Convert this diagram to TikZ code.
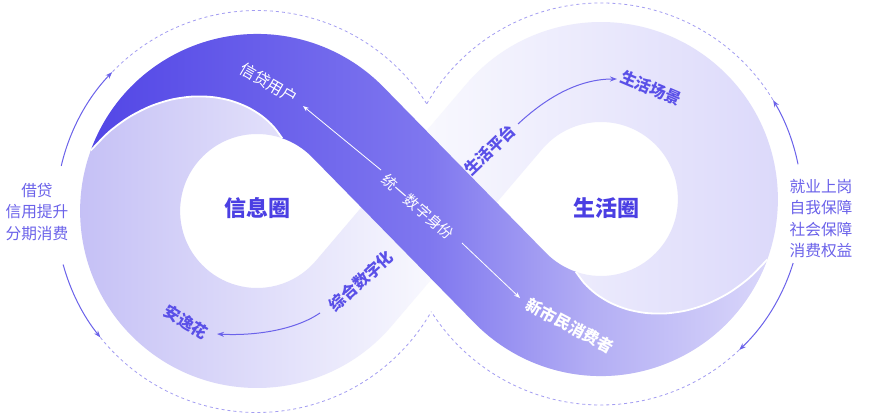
\documentclass[tikz,border=0pt]{standalone}
\usepackage{fontspec}
\setmainfont{Noto Sans CJK SC}
\usetikzlibrary{calc,arrows.meta}
\definecolor{dA}{HTML}{5246E6}
\definecolor{dB}{HTML}{7F77EF}
\definecolor{dC}{HTML}{B3AEF4}
\definecolor{dD}{HTML}{D9D6FA}
\definecolor{lA}{HTML}{C2BDF5}
\definecolor{lB}{HTML}{F8F8FE}
\definecolor{lC}{HTML}{DAD7FA}
\definecolor{ink}{HTML}{5A50E8}
\definecolor{inkdark}{HTML}{4B3FE3}
\definecolor{side}{HTML}{6B62EA}
\definecolor{dashc}{HTML}{A39DF2}
\pgfdeclarehorizontalshading{darkrib}{100bp}{color(0bp)=(dA); color(25bp)=(dA); color(50bp)=(dB); color(62bp)=(dC); color(75bp)=(dD); color(100bp)=(dD)}
\pgfdeclarehorizontalshading{lightrib}{100bp}{color(0bp)=(lA); color(25bp)=(lA); color(50bp)=(lB); color(75bp)=(lC); color(100bp)=(lC)}
\begin{document}
\begin{tikzpicture}[x=1pt,y=1pt,
  bandtext/.style={font=\bfseries\fontsize{16}{16}\selectfont, text=ink, inner sep=0pt},
  whitetext/.style={font=\fontsize{16}{16}\selectfont, text=white, inner sep=0pt},
  sidetext/.style={font=\fontsize{15.7}{21.5}\selectfont, text=side, align=center, inner sep=0pt},
  circtext/.style={font=\bfseries\fontsize{22}{22}\selectfont, text=inkdark, inner sep=0pt},
  dashline/.style={draw=dashc, line width=0.8pt, dash pattern=on 3pt off 3pt},
  sidearrow/.style={draw=side, line width=1pt, -{Stealth[length=7pt,width=5pt]}},
  whitearrow/.style={draw=white, line width=0.8pt, -{Stealth[length=6pt,width=4.5pt]}},
  separator/.style={draw=white, line width=1.8pt},
]
\useasboundingbox (0,0) rectangle (877,418);
\fill[white] (0,0) rectangle (877,418);
\begin{scope}[shift={(429,213)}, rotate=2]
 \coordinate (C1) at (-172,0);
 \coordinate (C2) at (172,0);
 % light ribbon (back side)
 \path[shading=lightrib, even odd rule]
   ($(C1)+(42.4:177)$) -- (0,74.2) -- ($(C2)+(137.6:177)$)
   arc[start angle=137.6, end angle=-137.6, radius=177]
   -- (0,-74.2) -- ($(C1)+(-42.4:177)$)
   arc[start angle=-42.4, end angle=-317.6, radius=177] -- cycle
   ($(C1)+(42.4:77)$) arc[start angle=42.4, end angle=317.6, radius=77] -- (-67.7,0) -- cycle
   ($(C2)+(137.6:77)$) arc[start angle=137.6, end angle=-137.6, radius=77] -- (67.7,0) -- cycle;
 % dark ribbon (front side)
 \path[shading=darkrib]
   ($(C1)+(158:177)$) arc[start angle=158, end angle=42.4, radius=177]
   -- ($(C2)+(222.4:77)$) arc[start angle=222.4, end angle=249, radius=77]
   -- plot[smooth, variable=\t, domain=0:1, samples=12] ({172+(77+100*\t)*cos(249+89*\t)}, {(77+100*\t)*sin(249+89*\t)})
   arc[start angle=338, end angle=222.4, radius=177]
   -- ($(C1)+(42.4:77)$) arc[start angle=42.4, end angle=69, radius=77]
   -- plot[smooth, variable=\t, domain=0:1, samples=12] ({-172+(77+100*\t)*cos(69+89*\t)}, {(77+100*\t)*sin(69+89*\t)})
   -- cycle;
 \draw[separator] plot[smooth, variable=\t, domain=0:1, samples=12] ({172+(77+100*\t)*cos(249+89*\t)}, {(77+100*\t)*sin(249+89*\t)});
 \draw[separator] plot[smooth, variable=\t, domain=0:1, samples=12] ({-172+(77+100*\t)*cos(69+89*\t)}, {(77+100*\t)*sin(69+89*\t)});
\end{scope}
% dashed outline and side arrows
\coordinate (DL) at (257,206.5);
\coordinate (DR) at (601,214);
\draw[dashline] ($(DL)+(32.45:201)$) arc[start angle=32.45, end angle=136.1, radius=201];
\draw[dashline] ($(DL)+(218.8:201)$) arc[start angle=218.8, end angle=330.05, radius=201];
\draw[dashline] ($(DR)+(150.05:201)$) arc[start angle=150.05, end angle=31.1, radius=201];
\draw[dashline] ($(DR)+(-46.6:201)$) arc[start angle=-46.6, end angle=-147.55, radius=201];
\draw[sidearrow] ($(DL)+(166.9:201)$) arc[start angle=166.9, end angle=136.1, radius=201];
\draw[sidearrow] ($(DL)+(195.3:201)$) arc[start angle=195.3, end angle=218.8, radius=201];
\draw[sidearrow] ($(DR)+(11.4:201)$) arc[start angle=11.4, end angle=31.1, radius=201];
\draw[sidearrow] ($(DR)+(-17.1:201)$) arc[start angle=-17.1, end angle=-46.6, radius=201];
% side texts
\node[sidetext] (leftlab) at (37,206) {借贷\\信用提升\\分期消费};
\node[sidetext] (rightlab) at (821,199.5) {就业上岗\\自我保障\\社会保障\\消费权益};
% circle titles
\node[circtext] (info) at (257,210) {信息圈};
\node[circtext] (life) at (606,210) {生活圈};
% band labels
\node[whitetext, rotate=-30] (xdyh) at (269,335) {信贷用户};
\node[whitetext, font=\fontsize{15}{15}\selectfont, rotate=-41] (tysf) at (418,211) {统一数字身份};
\node[whitetext, font=\bfseries\fontsize{16}{16}\selectfont, rotate=-28] (xsm) at (570,92) {新市民消费者};
\node[bandtext, rotate=44] (shpt) at (490,268) {生活平台};
\node[bandtext, rotate=-23] (shcj) at (651,330) {生活场景};
\node[bandtext, rotate=42] (zhsz) at (361,137) {综合数字化};
\node[bandtext, rotate=-31] (ayh) at (186,96) {安逸花};
% arrows
\coordinate (w1s) at (381,248);
\coordinate (w1e) at (303,312);
\coordinate (w2s) at (462,175);
\coordinate (w2e) at (520,120);
\draw[whitearrow] (w1s) -- (w1e);
\draw[whitearrow] (w2s) -- (w2e);
\coordinate (p1s) at (518,294);
\coordinate (p1e) at (617,339);
\coordinate (p2s) at (320,105);
\coordinate (p2e) at (217,84);
\draw[sidearrow] (p1s) .. controls (548,322) and (580,339) .. (p1e);
\draw[sidearrow] (p2s) .. controls (295,88) and (255,82) .. (p2e);
\end{tikzpicture}
\end{document}
